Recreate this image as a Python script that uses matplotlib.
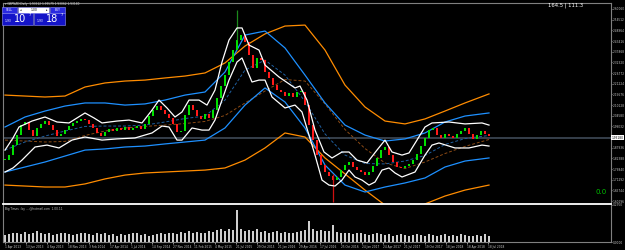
import matplotlib
matplotlib.use("Agg")
import matplotlib.pyplot as plt
from matplotlib.patches import Rectangle

closes = [1.815, 1.841, 1.893, 1.945, 1.997, 2.013, 1.971, 1.940, 1.982, 2.003,
          2.018, 1.997, 1.971, 1.940, 1.951, 1.971, 1.992, 2.008, 2.018, 2.029,
          2.023, 2.003, 1.982, 1.956, 1.940, 1.961, 1.977, 1.966, 1.982, 1.971,
          1.987, 1.971, 1.982, 1.992, 1.977, 2.003, 2.044, 2.075, 2.096, 2.075,
          2.055, 2.034, 2.003, 1.961, 1.966, 2.049, 2.101, 2.075, 2.044, 2.029,
          2.055, 2.034, 2.075, 2.138, 2.200, 2.257, 2.325, 2.387, 2.439, 2.465,
          2.429, 2.361, 2.294, 2.346, 2.335, 2.273, 2.242, 2.205, 2.179, 2.169,
          2.148, 2.164, 2.143, 2.169, 2.169, 2.101, 1.997, 1.919, 1.841, 1.789,
          1.753, 1.732, 1.711, 1.727, 1.763, 1.789, 1.805, 1.779, 1.763, 1.753,
          1.737, 1.753, 1.784, 1.826, 1.867, 1.883, 1.841, 1.805, 1.779, 1.774,
          1.784, 1.795, 1.815, 1.847, 1.888, 1.930, 1.971, 1.982, 1.945, 1.930,
          1.951, 1.940, 1.930, 1.951, 1.966, 1.982, 1.951, 1.925, 1.945, 1.966,
          1.951, 1.940]

band_idx = [0, 5, 10, 15, 20, 25, 30, 35, 40, 45, 50, 55, 60, 65, 70, 75, 80,
            85, 90, 95, 100, 105, 110, 115, 121]
blue_upper = [1.987, 2.039, 2.070, 2.096, 2.112, 2.112, 2.101, 2.107, 2.127, 2.153,
              2.169, 2.273, 2.465, 2.486, 2.398, 2.257, 2.112, 1.997, 1.945, 1.914,
              1.925, 1.956, 2.013, 2.044, 2.060]
blue_lower = [1.753, 1.779, 1.805, 1.836, 1.867, 1.873, 1.883, 1.888, 1.899, 1.909,
              1.919, 1.982, 2.101, 2.190, 2.117, 1.982, 1.789, 1.685, 1.649, 1.675,
              1.696, 1.722, 1.779, 1.810, 1.826]
blue_mid = [1.867, 1.909, 1.940, 1.966, 1.990, 1.992, 1.992, 1.997, 2.013, 2.031,
            2.044, 2.127, 2.283, 2.335, 2.257, 2.120, 1.951, 1.841, 1.797, 1.795,
            1.810, 1.839, 1.896, 1.927, 1.943]
orange_upper = [2.153, 2.148, 2.143, 2.148, 2.195, 2.216, 2.226, 2.231, 2.242, 2.252,
                2.268, 2.320, 2.408, 2.471, 2.512, 2.517, 2.387, 2.205, 2.091, 2.018,
                2.003, 2.029, 2.070, 2.112, 2.159]
orange_lower = [1.685, 1.680, 1.675, 1.675, 1.691, 1.717, 1.737, 1.748, 1.753, 1.758,
                1.763, 1.774, 1.815, 1.878, 1.956, 1.935, 1.826, 1.743, 1.659, 1.581,
                1.540, 1.587, 1.628, 1.659, 1.685]
orange_mid = [1.919, 1.914, 1.909, 1.912, 1.943, 1.966, 1.982, 1.990, 1.997, 2.005,
              2.016, 2.047, 2.112, 2.174, 2.234, 2.226, 2.107, 1.974, 1.875, 1.800,
              1.771, 1.805, 1.849, 1.886, 1.922]

white_up_idx = [0, 2, 3.5, 6.75, 10, 13, 16, 18, 20, 22.25, 24.25, 28, 31, 34.25,
                36.75, 38.5, 40.5, 42.5, 44.25, 46, 48.5, 50.5, 52.5, 54.25, 56, 58,
                59.25, 61, 63.5, 65, 68.5, 72.5, 73.75, 75.5, 77.5, 79.75, 81.75,
                84.25, 86, 88, 90.5, 93, 95, 96.75, 99.25, 101, 103, 105, 106.75,
                111, 115, 119.25, 121]
white_up = [1.867, 1.930, 1.987, 2.018, 2.039, 2.013, 2.008, 2.034, 2.060, 2.034,
            2.008, 2.018, 2.023, 2.008, 2.075, 2.127, 2.086, 2.039, 2.065, 2.127,
            2.127, 2.101, 2.179, 2.325, 2.439, 2.502, 2.502, 2.413, 2.387, 2.309,
            2.247, 2.190, 2.200, 2.127, 1.971, 1.857, 1.826, 1.857, 1.857, 1.815,
            1.800, 1.867, 1.919, 1.857, 1.841, 1.852, 1.919, 1.987, 2.008, 2.013,
            2.003, 2.008, 1.997]
white_lo_idx = [0, 2, 4.25, 7.5, 10.5, 13.5, 16.75, 20, 24.25, 28, 32.5, 36.75,
                39.25, 41, 43, 44.25, 46.75, 49.25, 51, 52.5, 54.25, 56, 58, 59.25,
                60.5, 61.75, 63.5, 65, 66.75, 70, 72.5, 74.25, 76, 77.5, 79.25, 81,
                82.5, 84.25, 86, 87.5, 89.25, 91, 92.5, 94.25, 96, 97.5, 99.25,
                102.5, 105, 106.75, 108.5, 112.5, 116, 119.25, 121]
white_lo = [1.753, 1.774, 1.815, 1.883, 1.893, 1.878, 1.919, 1.935, 1.919, 1.925,
            1.930, 1.956, 1.992, 1.987, 1.919, 1.919, 1.982, 1.971, 1.971, 2.023,
            2.127, 2.231, 2.325, 2.346, 2.283, 2.221, 2.231, 2.231, 2.143, 2.086,
            2.101, 2.065, 1.945, 1.841, 1.711, 1.685, 1.680, 1.711, 1.763, 1.727,
            1.711, 1.685, 1.701, 1.763, 1.774, 1.748, 1.727, 1.753, 1.841, 1.893,
            1.904, 1.878, 1.878, 1.893, 1.888]

wick_idx = [58, 82]
wick_top = [2.595, 1.745]
wick_bot = [2.440, 1.597]
wick_colors = ["#1c8a1c", "#d01010"]

volume = [0.045, 0.05, 0.06, 0.055, 0.05, 0.065, 0.05, 0.06, 0.07, 0.055,
          0.05, 0.06, 0.045, 0.05, 0.055, 0.06, 0.05, 0.045, 0.05, 0.055,
          0.06, 0.05, 0.045, 0.055, 0.05, 0.06, 0.045, 0.05, 0.04, 0.05,
          0.045, 0.05, 0.055, 0.06, 0.045, 0.05, 0.04, 0.045, 0.05, 0.055,
          0.05, 0.06, 0.055, 0.05, 0.065, 0.06, 0.07, 0.06, 0.065, 0.055,
          0.06, 0.07, 0.065, 0.075, 0.08, 0.07, 0.085, 0.075, 0.20, 0.08,
          0.07, 0.075, 0.07, 0.08, 0.065, 0.07, 0.06, 0.065, 0.07, 0.06,
          0.065, 0.055, 0.06, 0.065, 0.07, 0.075, 0.13, 0.08, 0.07, 0.075,
          0.07, 0.07, 0.105, 0.065, 0.06, 0.055, 0.06, 0.05, 0.055, 0.06,
          0.05, 0.045, 0.05, 0.055, 0.05, 0.045, 0.05, 0.04, 0.045, 0.05,
          0.045, 0.04, 0.045, 0.05, 0.045, 0.04, 0.05, 0.045, 0.04, 0.045,
          0.05, 0.04, 0.045, 0.04, 0.05, 0.045, 0.04, 0.035, 0.045, 0.04,
          0.05, 0.04]

date_labels = ["1 Apr 2013", "13 Jun 2013", "4 Sep 2013", "18 Nov 2013", "3 Feb 2014",
               "17 Apr 2014", "1 Jul 2014", "14 Sep 2014", "27 Nov 2014", "11 Feb 2015",
               "4 May 2015", "21 Jul 2015", "29 Oct 2015", "21 Jan 2016", "29 Apr 2016",
               "17 Jul 2016", "25 Oct 2016", "24 Jan 2017", "24 Apr 2017", "21 Jul 2017",
               "19 Oct 2017", "18 Jan 2018", "18 Apr 2018", "18 Jul 2018"]
price_ticks = [2.60060, 2.54512, 2.48964, 2.43416, 2.37868, 2.32320, 2.26772,
               2.21224, 2.15676, 2.10128, 2.04580, 1.99032, 1.87936, 1.82388,
               1.76840, 1.71292, 1.65744, 1.60196]
current_price = 1.93180

W, H = 625, 250
SMALL = 2.1


def fx(x):
    return x / W


def fy(y):
    return 1 - y / H


fig = plt.figure(figsize=(6.25, 2.5), dpi=100, facecolor="black")
ax = fig.add_axes([fx(3), fy(204), fx(608), 201 / H], facecolor="black")
axv = fig.add_axes([fx(3), fy(242), fx(608), 38 / H], facecolor="black")

# bands
ax.plot(band_idx, orange_upper, color="#ff8c00", lw=0.9, zorder=1)
ax.plot(band_idx, orange_lower, color="#ff8c00", lw=0.9, zorder=1)
ax.plot(band_idx, orange_mid, color="#8b4a14", lw=0.7, ls=(0, (3, 2)), zorder=1)
ax.plot(band_idx, blue_upper, color="#1e90ff", lw=0.9, zorder=1)
ax.plot(band_idx, blue_lower, color="#1e90ff", lw=0.9, zorder=1)
ax.plot(band_idx, blue_mid, color="#1f5f9f", lw=0.7, ls=(0, (3, 2)), zorder=1)

# candles (open = previous close)
idx = list(range(len(closes)))
opens = [closes[0]] + closes[:-1]
lows = [min(o, c) for o, c in zip(opens, closes)]
heights = [max(abs(c - o), 0.004) for o, c in zip(opens, closes)]
cols = ["#00e000" if c >= o else "#ff1a1a" for o, c in zip(opens, closes)]
ax.bar(idx, heights, bottom=lows, width=0.55, color=cols, lw=0, zorder=2)
ax.vlines(wick_idx, wick_bot, wick_top, colors=wick_colors, lw=0.9, zorder=2)

# white envelope
ax.plot(white_up_idx, white_up, color="white", lw=0.9, zorder=3)
ax.plot(white_lo_idx, white_lo, color="white", lw=0.9, zorder=3)

ax.axhline(current_price, color="#3a4450", lw=1.3, zorder=0)

ax.set_xlim(-0.5, 151.5)
ax.set_ylim(1.5866, 2.6318)
ax.set_xticks([])
ax.set_yticks(price_ticks)
ax.set_yticklabels(["%.5f" % p for p in price_ticks])
ax.tick_params(axis="y", left=False, right=True, labelleft=False, labelright=True,
               labelsize=SMALL, colors="#c8c8c8", length=1, width=0.5, pad=0.4)
for side in ["left", "top", "right"]:
    ax.spines[side].set_color("#808080")
    ax.spines[side].set_linewidth(0.8)
ax.spines["bottom"].set_visible(False)
ax.text(1.001, current_price, "1.93180", transform=ax.get_yaxis_transform(),
        fontsize=SMALL, color="black", va="center", ha="left",
        bbox=dict(boxstyle="square,pad=0.1", fc="white", ec="none"))

# volume panel
axv.bar(idx, volume, width=0.7, color="#cfcfcf", lw=0, zorder=2)
axv.set_xlim(-0.5, 151.5)
axv.set_ylim(0, 0.24)
axv.set_yticks([0.0, 0.235])
axv.set_yticklabels(["0.0000", "0.2350"])
axv.tick_params(axis="y", left=False, right=True, labelleft=False, labelright=True,
                labelsize=SMALL, colors="#c8c8c8", length=1, width=0.5, pad=0.4)
date_pos = [k * 5.25 for k in range(len(date_labels))]
axv.set_xticks(date_pos)
axv.set_xticklabels(date_labels, ha="left")
axv.tick_params(axis="x", labelsize=SMALL, colors="#c8c8c8", length=1.5, width=0.5, pad=0.6)
for side in ["left", "right", "bottom"]:
    axv.spines[side].set_color("#808080")
    axv.spines[side].set_linewidth(0.8)
axv.spines["top"].set_color("white")
axv.spines["top"].set_linewidth(1.3)
axv.text(0.003, 0.88, "Big Times : by ....@hotmail.com  1.00.11", transform=axv.transAxes,
         fontsize=SMALL, color="#c8c8c8", va="center", ha="left")

# header texts
fig.text(fx(5), fy(3.5), "\u25be GBPNZD,Daily  1.93512 1.93579 1.93062 1.93180",
         fontsize=SMALL, color="#d0d0d0", va="center", ha="left")
fig.text(fx(548), fy(5.5), "164.5 | 111.3", fontsize=3.8, color="white",
         va="center", ha="left")
fig.text(fx(596), fy(192), "0.0", fontsize=5, color="#00c000", va="center", ha="left")

# one-click trading widget
boxes = [(2, 7, 15, 6, "#2a2ae0"), (18, 7, 31, 6, "white"), (50, 7, 15, 6, "#2a2ae0"),
         (2, 13, 31, 12, "#1414c8"), (34, 13, 31, 12, "#1414c8")]
for x0, y0, w, h, c in boxes:
    fig.patches.append(Rectangle((fx(x0), fy(y0 + h)), fx(w), h / H, transform=fig.transFigure,
                                 fc=c, ec="#9090ff", lw=0.4))
fig.text(fx(9.5), fy(10), "SELL", fontsize=2.2, color="white", ha="center", va="center")
fig.text(fx(57.5), fy(10), "BUY", fontsize=2.2, color="white", ha="center", va="center")
fig.text(fx(20), fy(10), "\u25c2", fontsize=2.2, color="black", ha="left", va="center")
fig.text(fx(47), fy(10), "\u25b8", fontsize=2.2, color="black", ha="right", va="center")
fig.text(fx(34), fy(10), "1.00", fontsize=2.2, color="black", ha="center", va="center")
for x0, big in [(2, "10"), (34, "18")]:
    fig.text(fx(x0 + 3), fy(21), "1.93", fontsize=2.2, color="white", ha="left", va="center")
    fig.text(fx(x0 + 12), fy(19.5), big, fontsize=7, color="white", ha="left", va="center")
    fig.text(fx(x0 + 26.5), fy(15.5), "7", fontsize=2.6, color="white", ha="left", va="center")

fig.savefig("out.png", dpi=100, facecolor="black")
